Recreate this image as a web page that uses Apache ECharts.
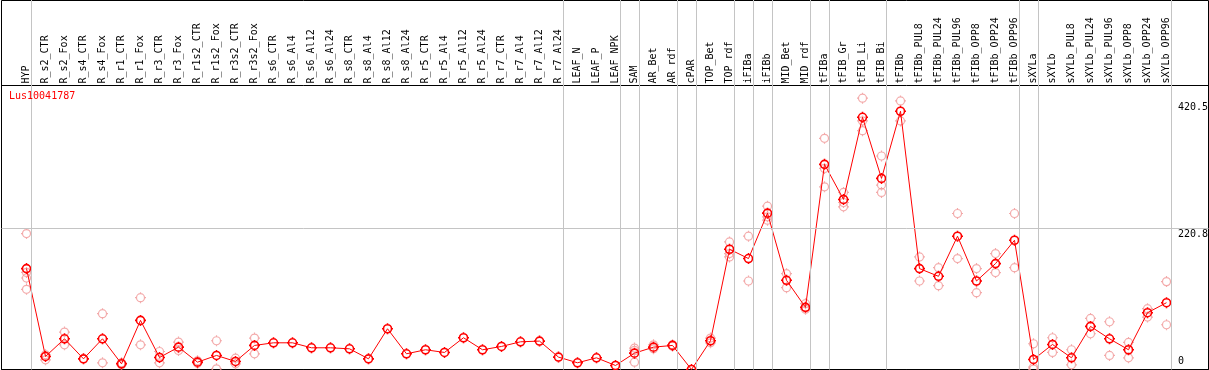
<!DOCTYPE html>
<html>
<head>
<meta charset="utf-8">
<script src="https://cdn.jsdelivr.net/npm/echarts@6/dist/echarts.min.js"></script>
<style>
html, body { margin: 0; padding: 0; background: #fff; }
#chart { width: 1209px; height: 370px; }
</style>
</head>
<body>
<div id="chart"></div>
<script>
// === ДАННЫЕ ===
const geneId = 'Lus10041787';

const categories = [
    'HYP', 'R_s2_CTR', 'R_s2_Fox', 'R_s4_CTR', 'R_s4_Fox', 'R_r1_CTR', 'R_r1_Fox', 'R_r3_CTR', 'R_r3_Fox',
    'R_r1s2_CTR', 'R_r1s2_Fox', 'R_r3s2_CTR', 'R_r3s2_Fox', 'R_s6_CTR', 'R_s6_Al4', 'R_s6_Al12', 'R_s6_Al24',
    'R_s8_CTR', 'R_s8_Al4', 'R_s8_Al12', 'R_s8_Al24', 'R_r5_CTR', 'R_r5_Al4', 'R_r5_Al12', 'R_r5_Al24',
    'R_r7_CTR', 'R_r7_Al4', 'R_r7_Al12', 'R_r7_Al24', 'LEAF_N', 'LEAF_P', 'LEAF_NPK', 'SAM', 'AR_Bet', 'AR_rdf',
    'cPAR', 'TOP_Bet', 'TOP_rdf', 'iFIBa', 'iFIBb', 'MID_Bet', 'MID_rdf', 'tFIBa', 'tFIB_Gr', 'tFIB_Li', 'tFIB_Bi',
    'tFIBb', 'tFIBb_PUL8', 'tFIBb_PUL24', 'tFIBb_PUL96', 'tFIBb_OPP8', 'tFIBb_OPP24', 'tFIBb_OPP96',
    'sXYLa', 'sXYLb', 'sXYLb_PUL8', 'sXYLb_PUL24', 'sXYLb_PUL96', 'sXYLb_OPP8', 'sXYLb_OPP24', 'sXYLb_OPP96'
];

// среднее по повторностям
const meanValues = [
    158.0, 20.4, 48.1, 16.7, 48.1, 8.9, 76.9, 18.8, 35.0,
    11.5, 22.0, 12.6, 37.7, 41.8, 41.8, 34.0, 34.0,
    32.4, 16.7, 63.8, 24.6, 30.9, 26.7, 49.7, 30.9,
    36.1, 43.4, 44.5, 19.4, 10.5, 18.3, 6.3, 25.6, 35.0, 37.7,
    0, 45.0, 188.3, 173.7, 244.8, 139.7, 97.3, 321.2, 266.3, 394.9, 299.2,
    404.4, 158.0, 145.9, 208.7, 138.6, 165.8, 202.4,
    15.7, 39.2, 18.3, 67.5, 48.1, 30.9, 88.9, 104.6
];

// отдельные повторности (null - нет точки)
const rep1 = [
    212.9, 23.0, 58.6, null, 87.4, 10.5, 112.5, 28.2, 42.9,
    13.6, 45.0, 17.8, 49.2, null, null, null, null,
    null, null, null, null, null, null, null, null,
    null, null, null, null, null, null, null, 33.5, 38.7, 38.7,
    null, 49.2, 199.8, 208.7, 255.8, 150.1, 103.0, 362.0, 277.2, 424.8, 334.3,
    420.6, 176.3, 159.5, 244.3, 158.0, 181.5, 244.3,
    40.3, 49.7, 30.9, 80.0, 74.8, 42.4, 95.2, 137.6
];
const rep2 = [
    152.0, 15.2, 38.7, null, 10.5, 7.3, 38.7, 10.5, 29.8,
    9.9, 1.0, 8.9, 24.6, null, null, null, null,
    null, null, null, null, null, null, null, null,
    null, null, null, null, null, null, null, 29.8, 32.4, 36.6,
    null, 41.8, 181.5, 138.6, 239.1, 128.2, 94.2, 314.9, 261.5, 389.2, 288.8,
    389.2, 138.6, 131.3, 173.7, 120.3, 151.7, 159.5,
    3.7, 26.7, 7.3, 56.0, 22.0, 18.3, 82.1, 70.1
];
const rep3 = [
    143.3, null, null, null, null, null, null, null, null,
    null, null, null, null, null, null, null, null,
    null, null, null, null, null, null, null, null,
    null, null, null, null, null, null, null, 11.5, null, null,
    null, null, 176.3, null, 233.8, null, 97.0, 286.1, 254.7, 374.0, 277.2,
    null, null, null, null, null, null, null,
    0.5, null, null, null, null, null, null, null
];
const rep4 = [
    125.5, null, null, null, null, null, null, null, null,
    null, null, null, null, null, null, null, null,
    null, null, null, null, null, null, null, null,
    null, null, null, null, null, null, null, null, null, null,
    null, null, null, null, null, null, null, null, null, null, null,
    null, null, null, null, null, null, null,
    null, null, null, null, null, null, null, null
];

// индексы последних столбцов в группах (-1 - левая граница)
const groupEnds = [-1, 0, 28, 31, 32, 34, 35, 37, 38, 39, 41, 42, 45, 52, 53, 60];

// подписи шкалы справа и опорная линия
const scaleMarks = [420.5, 220.8, 0];
const refValue = 220.8;
const yMax = 444.7;

// === ОФОРМЛЕНИЕ ===
const fontMono = 'DejaVu Sans Mono';
const meanColor = '#ff0000';
const repColor = '#f09595';
const sepColor = '#c4c4c4';
// кружок с короткими засечками
const markerPath = 'path://M5.5,0L5.5,1.5M5.5,9.5L5.5,11M0,5.5L1.5,5.5M9.5,5.5L11,5.5' +
    'M9.5,5.5C9.5,7.71,7.71,9.5,5.5,9.5C3.29,9.5,1.5,7.71,1.5,5.5C1.5,3.29,3.29,1.5,5.5,1.5C7.71,1.5,9.5,3.29,9.5,5.5Z';

let chart = null;

// === ИНИЦИАЛИЗАЦИЯ ===
function init() {
    const reps = transformReps([rep1, rep2, rep3, rep4]);
    render(reps);
}

// === ТРАНСФОРМАЦИЯ ДАННЫХ ===
function transformReps(lists) {
    let points = [];
    lists.forEach(list => {
        list.forEach((v, i) => {
            if (v !== null) points.push([i, v]);
        });
    });
    return points;
}

// === РЕНДЕРИНГ ===
function render(reps) {
    chart = echarts.init(document.getElementById('chart'));
    const n = categories.length;

    const scaleLabels = scaleMarks.map(v => {
        const top = v !== 0;
        return {
            yAxis: v,
            label: {
                formatter: String(v),
                verticalAlign: top ? 'top' : 'bottom',
                padding: top ? [1, 0, 0, 0] : [0, 0, 3, 0]
            }
        };
    });

    const option = {
        animation: false,
        title: {
            text: geneId,
            left: 9,
            top: 91,
            padding: 0,
            textStyle: { color: meanColor, fontSize: 10, fontFamily: fontMono, fontWeight: 'normal' }
        },
        grid: [
            // область данных
            { left: 17, right: 33, top: 85.5, bottom: 0.5 },
            // рамка области графика на всю ширину
            { left: 1.5, right: 0.5, top: 85.5, bottom: 0.5, show: true, borderColor: '#000', borderWidth: 1 },
            // разделители групп на всю высоту
            { left: 17, right: 33, top: 0, bottom: 0.5 },
            // внешняя рамка
            { left: 1.5, right: 0.5, top: 0.5, bottom: 0.5, show: true, borderColor: '#000', borderWidth: 1 }
        ],
        xAxis: [
            {
                type: 'category', gridIndex: 0, data: categories, position: 'top', boundaryGap: true,
                axisLine: { show: false }, axisTick: { show: false }, splitLine: { show: false },
                axisLabel: { interval: 0, rotate: 90, margin: 2, fontSize: 10, fontFamily: fontMono, color: '#000' }
            },
            { type: 'value', gridIndex: 1, min: 0, max: 1, show: false },
            { type: 'value', gridIndex: 2, min: -0.5, max: n - 0.5, show: false },
            { type: 'value', gridIndex: 3, min: 0, max: 1, show: false }
        ],
        yAxis: [
            { type: 'value', gridIndex: 0, min: 0, max: yMax, show: false },
            { type: 'value', gridIndex: 1, min: 0, max: yMax, show: false },
            { type: 'value', gridIndex: 2, min: 0, max: 1, show: false },
            { type: 'value', gridIndex: 3, min: 0, max: 1, show: false }
        ],
        series: [
            {
                type: 'line', xAxisIndex: 2, yAxisIndex: 2, data: [], silent: true,
                markLine: {
                    silent: true, symbol: 'none', animation: false,
                    label: { show: false },
                    lineStyle: { color: sepColor, width: 1, type: 'solid' },
                    data: groupEnds.map(i => ({ xAxis: i + 0.26 }))
                }
            },
            {
                type: 'line', xAxisIndex: 1, yAxisIndex: 1, data: [], silent: true,
                markLine: {
                    silent: true, symbol: 'none', animation: false,
                    label: { show: false },
                    lineStyle: { color: sepColor, width: 1, type: 'solid' },
                    data: [{ yAxis: refValue }]
                }
            },
            {
                type: 'scatter', xAxisIndex: 0, yAxisIndex: 0, data: reps, silent: true,
                symbol: markerPath, symbolSize: 11,
                itemStyle: { color: 'rgba(0,0,0,0)', borderColor: repColor, borderWidth: 1.2 },
                z: 3
            },
            {
                type: 'line', xAxisIndex: 0, yAxisIndex: 0, data: meanValues, silent: true, clip: false,
                symbol: markerPath, symbolSize: 11, showAllSymbol: true,
                lineStyle: { color: meanColor, width: 1 },
                itemStyle: { color: 'rgba(0,0,0,0)', borderColor: meanColor, borderWidth: 1.6 },
                z: 4,
                markLine: {
                    silent: true, symbol: 'none', animation: false,
                    lineStyle: { color: 'rgba(0,0,0,0)', width: 1 },
                    label: {
                        show: true, position: 'end', distance: 2, align: 'left',
                        fontSize: 10, fontFamily: fontMono, color: '#000'
                    },
                    data: scaleLabels
                }
            }
        ]
    };
    chart.setOption(option);
}

// === ЗАПУСК ===
init();
</script>
</body>
</html>
